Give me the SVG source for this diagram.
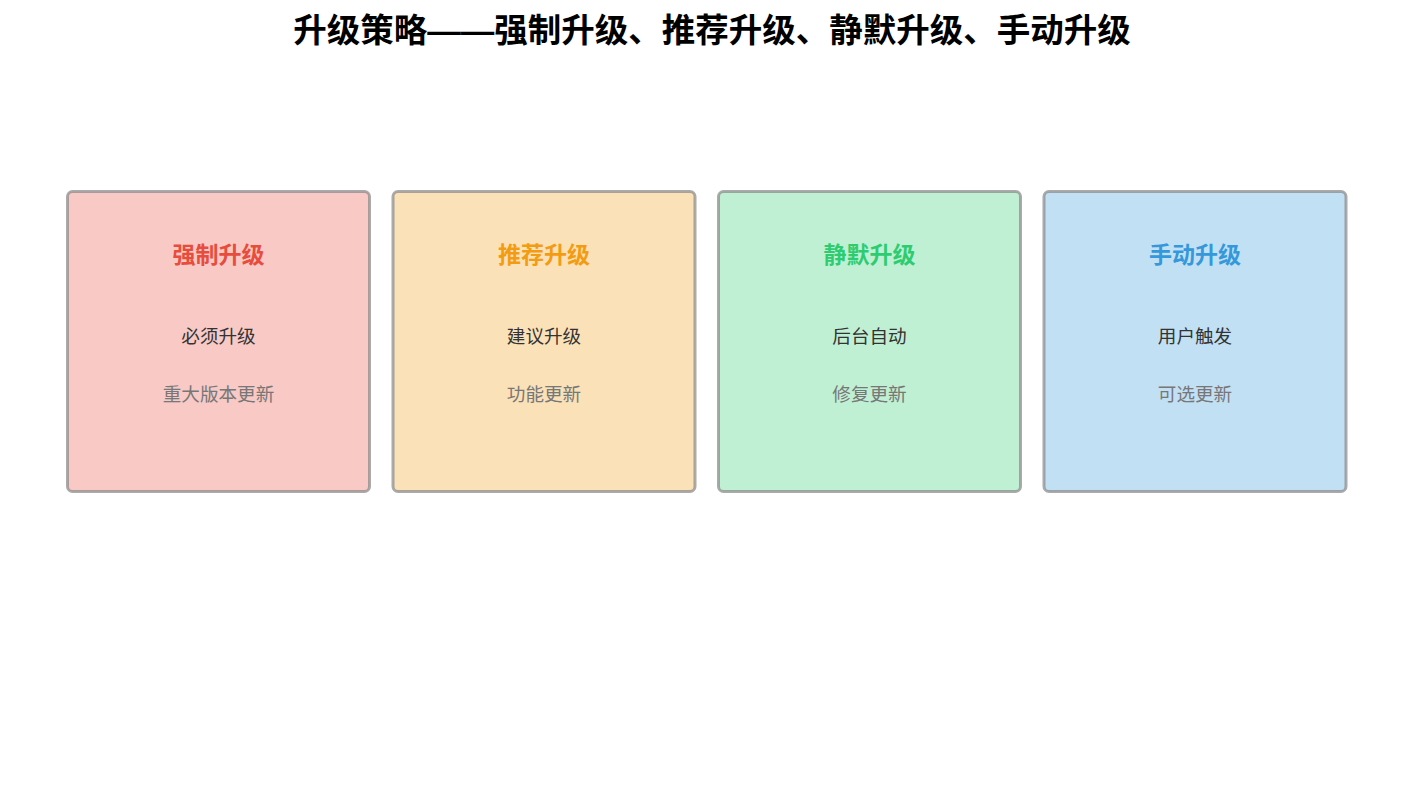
<svg xmlns="http://www.w3.org/2000/svg" width="1425" height="790" viewBox="0 0 1425 790">
<style>
text{font-family:"Liberation Sans","Noto Sans CJK SC",sans-serif;text-anchor:middle}
.title{font-size:33.5px;font-weight:bold;fill:#000}
.box{stroke:#888;stroke-opacity:0.7;stroke-width:3}
.h{font-size:23px;font-weight:bold}
.s1{font-size:18.6px;fill:#333}
.s2{font-size:18.6px;fill:#777}
</style>
<rect width="1425" height="790" fill="#fff"/>
<text class="title" x="712" y="42">升级策略——强制升级、推荐升级、静默升级、手动升级</text>
<g id="node-force">
<rect class="box" x="67.5" y="191.5" width="302" height="300" rx="5" fill="#f8c9c5"/>
<text class="h" x="218.5" y="263" fill="#e74c3c">强制升级</text>
<text class="s1" x="218.5" y="343">必须升级</text>
<text class="s2" x="218.5" y="401">重大版本更新</text>
</g>
<g id="node-recommend">
<rect class="box" x="393" y="191.5" width="302" height="300" rx="5" fill="#fbe1b8"/>
<text class="h" x="544" y="263" fill="#f39c12">推荐升级</text>
<text class="s1" x="544" y="343">建议升级</text>
<text class="s2" x="544" y="401">功能更新</text>
</g>
<g id="node-silent">
<rect class="box" x="718.5" y="191.5" width="302" height="300" rx="5" fill="#c0f0d4"/>
<text class="h" x="869.5" y="263" fill="#2ecc71">静默升级</text>
<text class="s1" x="869.5" y="343">后台自动</text>
<text class="s2" x="869.5" y="401">修复更新</text>
</g>
<g id="node-manual">
<rect class="box" x="1044" y="191.5" width="302" height="300" rx="5" fill="#c2e0f4"/>
<text class="h" x="1195" y="263" fill="#3498db">手动升级</text>
<text class="s1" x="1195" y="343">用户触发</text>
<text class="s2" x="1195" y="401">可选更新</text>
</g>
<g id="connectors"></g>
</svg>
